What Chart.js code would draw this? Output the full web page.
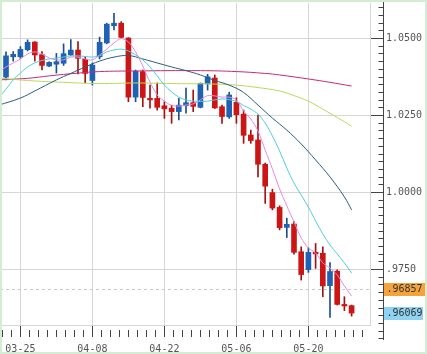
<!DOCTYPE html>
<html><head><meta charset="utf-8">
<script src="https://cdn.jsdelivr.net/npm/chart.js@4/dist/chart.umd.min.js"></script>
<style>html,body{margin:0;padding:0;background:#fff;overflow:hidden}#wrap{width:427px;height:354px;position:relative}</style>
</head><body><div id="wrap"><canvas id="c" width="427" height="354"></canvas></div>
<script>
// ---- data (AUD/USD style daily candles) ----
const dates = ['03-20','03-21','03-22','03-25','03-26','03-27','03-28','03-29',
 '04-01','04-02','04-03','04-04','04-05','04-08','04-09','04-10','04-11','04-12',
 '04-15','04-16','04-17','04-18','04-19','04-22','04-23','04-24','04-25','04-26',
 '04-29','04-30','05-01','05-02','05-03','05-06','05-07','05-08','05-09','05-10',
 '05-13','05-14','05-15','05-16','05-17','05-20','05-21','05-22','05-23','05-24',
 '05-27','05-28'];
const opens  = [1.0347,1.0373,1.0439,1.0439,1.0462,1.0487,1.0446,1.0409,1.0415,1.0418,1.0445,1.0461,1.0431,1.0362,1.0439,1.0484,1.0540,1.0548,1.0500,1.0308,1.0391,1.0304,1.0304,1.0280,1.0272,1.0261,1.0280,1.0290,1.0275,1.0351,1.0370,1.0277,1.0244,1.0291,1.0253,1.0185,1.0169,1.0090,0.9998,0.9950,0.9885,0.9896,0.9806,0.9748,0.9804,0.9801,0.9696,0.9743,0.9635,0.9631];
const highs  = [1.0383,1.0455,1.0456,1.0472,1.0494,1.0488,1.0456,1.0423,1.0450,1.0481,1.0495,1.0488,1.0439,1.0419,1.0503,1.0548,1.0580,1.0553,1.0501,1.0396,1.0396,1.0347,1.0354,1.0293,1.0282,1.0304,1.0337,1.0331,1.0354,1.0382,1.0380,1.0282,1.0324,1.0306,1.0266,1.0201,1.0250,1.0094,1.0009,0.9955,0.9915,0.9904,0.9822,0.9819,0.9833,0.9822,0.9771,0.9747,0.9660,0.9633];
const lows   = [1.0338,1.0364,1.0425,1.0434,1.0458,1.0425,1.0396,1.0407,1.0386,1.0411,1.0443,1.0383,1.0355,1.0347,1.0432,1.0481,1.0526,1.0500,1.0293,1.0293,1.0277,1.0272,1.0266,1.0239,1.0223,1.0234,1.0256,1.0261,1.0273,1.0331,1.0271,1.0223,1.0239,1.0223,1.0158,1.0158,1.0049,0.9963,0.9942,0.9877,0.9852,0.9798,0.9714,0.9739,0.9752,0.9660,0.9593,0.9633,0.9615,0.9597];
const closes = [1.0380,1.0442,1.0447,1.0463,1.0486,1.0445,1.0411,1.0421,1.0423,1.0449,1.0461,1.0434,1.0385,1.0412,1.0486,1.0545,1.0548,1.0502,1.0308,1.0392,1.0307,1.0299,1.0275,1.0270,1.0261,1.0282,1.0290,1.0278,1.0353,1.0374,1.0273,1.0245,1.0315,1.0251,1.0184,1.0167,1.0090,1.0019,0.9948,0.9884,0.9895,0.9804,0.9732,0.9804,0.9799,0.9695,0.9742,0.9635,0.9630,0.96069];
// moving-average lines (one value per candle)
const maPink = [1.0390,1.0406,1.0419,1.0432,1.0448,1.0455,1.0448,1.0435,1.0429,1.0429,1.0438,1.0438,1.0432,1.0429,1.0445,1.0464,1.0484,1.0498,1.0487,1.0455,1.0409,1.0357,1.0315,1.0295,1.0281,1.0279,1.0282,1.0286,1.0299,1.0313,1.0312,1.0308,1.0308,1.0299,1.0263,1.0237,1.0198,1.0136,1.0075,1.0010,0.9955,0.9903,0.9851,0.9818,0.9802,0.9770,0.9753,0.9731,0.9695,0.9662];
const maCyan = [1.0305,1.0334,1.0364,1.0386,1.0406,1.0419,1.0427,1.0432,1.0435,1.0438,1.0442,1.0442,1.0440,1.0438,1.0442,1.0455,1.0461,1.0464,1.0458,1.0445,1.0429,1.0406,1.0377,1.0347,1.0325,1.0308,1.0299,1.0295,1.0294,1.0295,1.0299,1.0302,1.0300,1.0294,1.0281,1.0269,1.0253,1.0224,1.0182,1.0133,1.0078,1.0029,0.9990,0.9951,0.9906,0.9864,0.9828,0.9799,0.9770,0.9737];
// slower averages, sampled at candle indices
const maTealIdx = [0,3,5,8,10,12,14,16,18,20,22,24,26,28,30,32,34,36,38,40,42,44,46,48,49];
const maTeal    = [1.0282,1.0305,1.0328,1.0364,1.0385,1.0406,1.0425,1.0438,1.0443,1.0432,1.0419,1.0406,1.0394,1.0380,1.0362,1.0347,1.0323,1.0282,1.0240,1.0201,1.0156,1.0104,1.0049,0.9984,0.9942];
const maGreenIdx = [0,4,9,14,19,24,29,33,36,39,41,43,45,47,49];
const maGreen    = [1.0370,1.0362,1.0356,1.0352,1.0354,1.0352,1.0351,1.0347,1.0339,1.0328,1.0313,1.0295,1.0269,1.0242,1.0214];
const maMagIdx = [0,4,7,11,14,19,28,33,37,39,43,46,49];
const maMag    = [1.0364,1.0369,1.0377,1.0386,1.0391,1.0393,1.0394,1.0391,1.0385,1.0380,1.0367,1.0356,1.0344];
const xTickIdx = [3,13,23,33,43];
const yTicks = [0.975,1.000,1.025,1.050];
const yTickLabels = ['.9750','1.0000','1.0250','1.0500'];
const priceMarks = [0.96857,0.96069];
const priceMarkLabels = ['.96857','.96069'];

// ---- build ----
const RED='#cc1616', BLUE='#1f62b4';
const col = closes.map((c,i)=> c>=opens[i] ? BLUE : RED);
const wickCol = closes.map((c,i)=> c>=opens[i] ? '#1d4f8e' : '#a31010');
const idx = closes.map((_,i)=>i);
const pts = (ix,vals)=>ix.map((k,j)=>({x:k,y:vals[j]}));

const Y_MIN = 0.975 - 56/3080, Y_MAX = 1.05 + 35/3080;

const deco = {
  id:'deco',
  beforeDatasetsDraw(ch){
    const {ctx,chartArea:a,scales:{y}} = ch;
    ctx.save();
    ctx.strokeStyle='#c8c8c8'; ctx.setLineDash([3,3]); ctx.lineWidth=1;
    const py=Math.round(y.getPixelForValue(priceMarks[0]))+0.5;
    ctx.beginPath(); ctx.moveTo(a.left,py); ctx.lineTo(a.right,py); ctx.stroke();
    ctx.restore();
  },
  afterDraw(ch){
    const {ctx,chartArea:a,scales:{x,y}} = ch;
    ctx.save();
    const ax = a.right + 13.5;
    ctx.strokeStyle='#444'; ctx.lineWidth=1;
    ctx.beginPath(); ctx.moveTo(ax,0); ctx.lineTo(ax,340); ctx.stroke();
    // minor y ticks
    ctx.beginPath();
    for(let v=0.95; v<=1.07; v+=0.0025){
      const p=y.getPixelForValue(v); if(p<0||p>340) continue;
      const pp=Math.round(p)+0.5; ctx.moveTo(ax-5,pp); ctx.lineTo(ax,pp);
    }
    ctx.stroke();
    // minor x ticks (8 per two-week interval)
    ctx.beginPath();
    for(let k=xTickIdx[0]-10;k<60;k+=1.25){
      const p=x.getPixelForValue(k); if(p<0||p>a.right) continue;
      const pp=Math.round(p)+0.5; ctx.moveTo(pp,a.bottom+5); ctx.lineTo(pp,a.bottom+12);
    }
    ctx.stroke();
    // price labels
    const boxes=[['#f6a33c',44],['#8fd3f3',39]];
    ctx.font='10px "DejaVu Sans Mono"'; ctx.textBaseline='middle';
    priceMarks.forEach((v,i)=>{
      const p=y.getPixelForValue(v);
      ctx.fillStyle=boxes[i][0]; ctx.fillRect(ax+0.5,Math.round(p)-6,boxes[i][1],13);
      ctx.fillStyle='#333'; ctx.fillText(priceMarkLabels[i],ax+3,p+0.5);
    });
    // frame
    ctx.strokeStyle='#d3ecd3'; ctx.lineWidth=2; ctx.strokeRect(1,1,425,352);
    ctx.restore();
  }
};

new Chart(document.getElementById('c'),{
  data:{datasets:[
    {type:'bar',data:idx.map(i=>({x:i,y:[lows[i],highs[i]]})),backgroundColor:wickCol,barThickness:1,grouped:false,order:10},
    {type:'bar',data:idx.map(i=>({x:i,y:[opens[i],closes[i]]})),backgroundColor:col,barThickness:5,grouped:false,minBarLength:1,order:9},
    {type:'line',data:pts(maMagIdx,maMag),borderColor:'#c42a7c',borderWidth:1,pointRadius:0,tension:0.4,order:5},
    {type:'line',data:pts(maGreenIdx,maGreen),borderColor:'#b6dc5a',borderWidth:1,pointRadius:0,tension:0.4,order:4},
    {type:'line',data:pts(maTealIdx,maTeal),borderColor:'#2a5d7c',borderWidth:1,pointRadius:0,tension:0.4,order:3},
    {type:'line',data:idx.map(i=>({x:i,y:maCyan[i]})),borderColor:'#4ccfe0',borderWidth:1,pointRadius:0,tension:0.3,order:2},
    {type:'line',data:idx.map(i=>({x:i,y:maPink[i]})),borderColor:'#e38ae0',borderWidth:1,pointRadius:0,tension:0.3,order:1}
  ]},
  options:{
    responsive:false,animation:false,
    layout:{padding:{top:3,left:0,right:0,bottom:0}},
    plugins:{legend:{display:false},tooltip:{enabled:false}},
    scales:{
      x:{type:'linear',offset:false,min:1-6/7.2,max:1+364/7.2,position:'bottom',
        afterFit:s=>{s.height=29;s.paddingLeft=0;s.paddingRight=0;},
        afterBuildTicks:s=>{s.ticks=xTickIdx.map(v=>({value:v}));},
        grid:{offset:false,color:'#d6d6d6',lineWidth:1,drawTicks:true,tickLength:12,tickColor:'#444'},
        border:{display:true,color:'#d6d6d6'},
        ticks:{autoSkip:false,maxRotation:0,padding:6,color:'#555',font:{family:'DejaVu Sans Mono',size:10},callback:v=>dates[v]}
      },
      y:{type:'linear',position:'right',min:Y_MIN,max:Y_MAX,
        afterFit:s=>{s.width=57;s.paddingTop=0;s.paddingBottom=0;},
        afterBuildTicks:s=>{s.ticks=yTicks.map(v=>({value:v}));},
        grid:{color:'#d6d6d6',lineWidth:1,drawTicks:true,tickLength:13,tickColor:'#444'},
        border:{display:true,color:'#d6d6d6'},
        ticks:{padding:3,color:'#555',font:{family:'DejaVu Sans Mono',size:10},callback:(v,i)=>yTickLabels[i]}
      }
    }
  },
  plugins:[deco]
});
</script></body></html>
